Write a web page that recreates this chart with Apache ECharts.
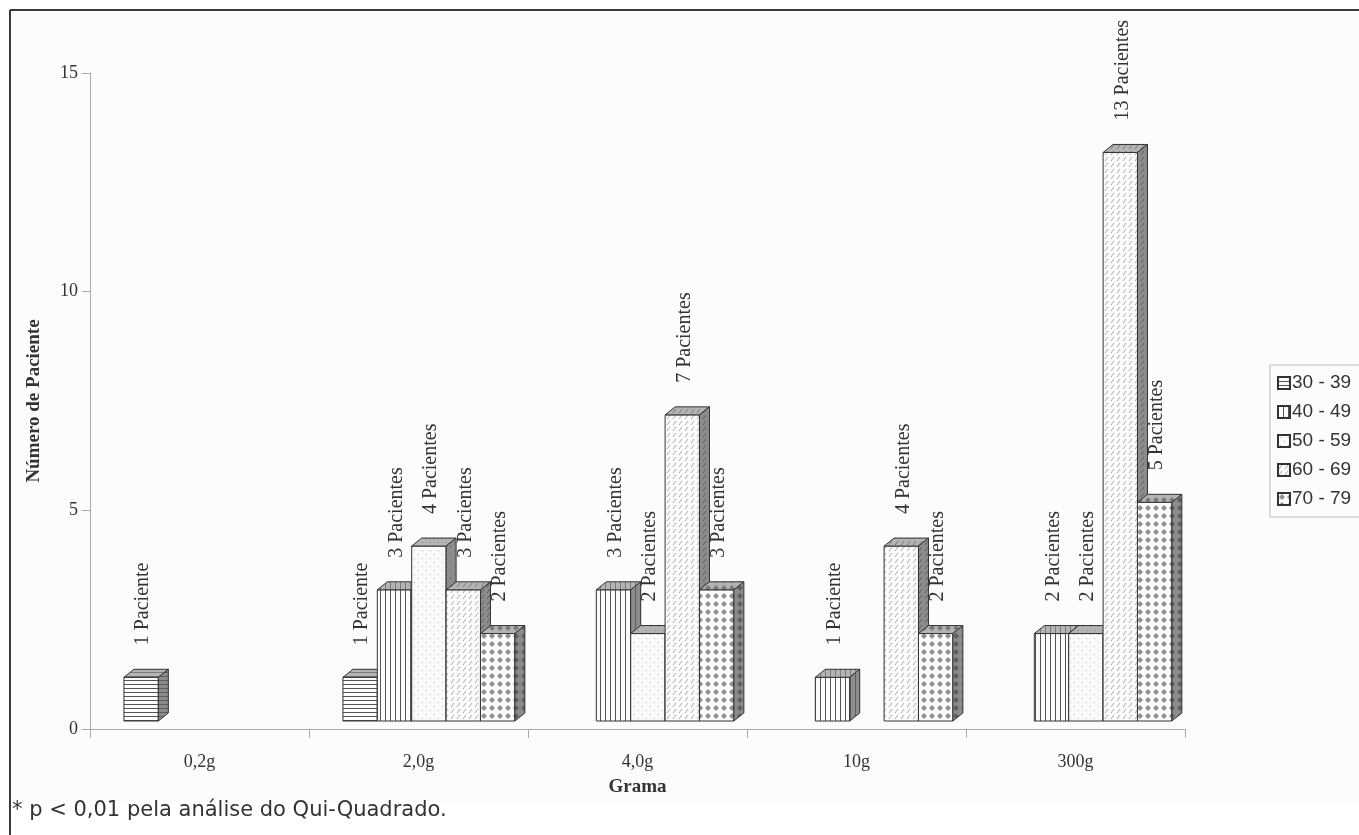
<!DOCTYPE html>
<html>
<head>
<meta charset="utf-8">
<script src="https://cdn.jsdelivr.net/npm/echarts@6/dist/echarts.min.js"></script>
<style>
html,body{margin:0;padding:0;background:#ffffff;}
#chart{width:1359px;height:835px;}
</style>
</head>
<body>
<div id="chart"></div>
<script>
// ---- data ----
const categories = ['0,2g', '2,0g', '4,0g', '10g', '300g'];
const seriesNames = ['30 - 39', '40 - 49', '50 - 59', '60 - 69', '70 - 79'];
const age3039 = [1, 1, null, null, null];
const age4049 = [null, 3, 3, 1, 2];
const age5059 = [null, 4, 2, null, 2];
const age6069 = [null, 3, 7, 4, 13];
const age7079 = [null, 2, 3, 2, 5];
const yTicks = [0, 5, 10, 15];

const seriesValues = [age3039, age4049, age5059, age6069, age7079];

// ---- patterns ----
function tile(w, h, bg, draw) {
  const c = document.createElement('canvas');
  c.width = w; c.height = h;
  const g = c.getContext('2d');
  g.fillStyle = bg; g.fillRect(0, 0, w, h);
  draw(g);
  return c;
}
const patternDraw = [
  function (bg, fg) { return tile(4, 4, bg, g => { g.fillStyle = fg; g.fillRect(0, 0, 4, 1); }); },
  function (bg, fg) { return tile(5, 5, bg, g => { g.fillStyle = fg; g.fillRect(0, 0, 1, 5); }); },
  function (bg, fg) { return tile(8, 8, bg, g => { g.fillStyle = fg; g.fillRect(2, 2, 1, 1); g.fillRect(6, 6, 1, 1); }); },
  function (bg, fg) { return tile(6, 6, bg, g => { g.strokeStyle = fg; g.lineWidth = 1; g.beginPath(); g.moveTo(1, 5); g.lineTo(4, 1); g.stroke(); }); },
  function (bg, fg) {
    return tile(8, 8, bg, g => {
      g.fillStyle = fg;
      g.beginPath(); g.moveTo(4, 1); g.lineTo(7, 4); g.lineTo(4, 7); g.lineTo(1, 4); g.closePath(); g.fill();
    });
  }
];
const frontFg = ['#555', '#555', '#b5b5b5', '#aaa', '#8f8f8f'];
function pat(c) { return { image: c, repeat: 'repeat' }; }
const frontFill = patternDraw.map((f, i) => pat(f('#fbfbfb', frontFg[i])));
const topFill = patternDraw.map((f, i) => pat(f('#b4b4b4', '#7a7a7a')));
const sideFill = patternDraw.map((f, i) => pat(f('#8c8c8c', '#5e5e5e')));

const DX = 10, DY = -8, LIFT = 8;

function makeRender(s) {
  return function (params, api) {
    const cat = api.value(0);
    const v = api.value(1);
    if (v == null || isNaN(v) || v <= 0) return null;
    const band = api.size([1, 0])[0];
    const base = api.coord([cat, 0]);
    const topP = api.coord([cat, v]);
    const w = band * 0.157;
    const x0 = base[0] - band / 2 + band * 0.155 + s * w;
    const yB = base[1] - LIFT;
    const yT = topP[1] - LIFT;
    const stroke = { stroke: '#333', lineWidth: 1 };
    const label = v === 1 ? '1 Paciente' : v + ' Pacientes';
    return {
      type: 'group',
      children: [
        { type: 'rect', shape: { x: x0, y: yT, width: w, height: yB - yT },
          style: Object.assign({ fill: frontFill[s] }, stroke) },
        { type: 'polygon', shape: { points: [[x0, yT], [x0 + w, yT], [x0 + w + DX, yT + DY], [x0 + DX, yT + DY]] },
          style: Object.assign({ fill: topFill[s] }, stroke) },
        { type: 'polygon', shape: { points: [[x0 + w, yT], [x0 + w + DX, yT + DY], [x0 + w + DX, yB + DY], [x0 + w, yB]] },
          style: Object.assign({ fill: sideFill[s] }, stroke) },
        { type: 'text', x: x0 + w / 2 + 2, y: yT - 32, rotation: Math.PI / 2,
          style: { text: label, fill: '#333', font: '20px "Liberation Serif", serif',
                   align: 'left', verticalAlign: 'middle' } }
      ]
    };
  };
}

const series = seriesValues.map((vals, s) => ({
  type: 'custom',
  name: seriesNames[s],
  renderItem: makeRender(s),
  itemStyle: { color: frontFill[s], borderColor: '#333', borderWidth: 1 },
  encode: { x: 0, y: 1 },
  data: vals.map((v, i) => [i, v == null ? NaN : v]),
  z: 2 + s
}));

const chart = echarts.init(document.getElementById('chart'), null, { renderer: 'canvas' });
chart.setOption({
  backgroundColor: '#ffffff',
  animation: false,
  graphic: [
    { type: 'rect', shape: { x: 10, y: 10, width: 1349, height: 792 }, style: { fill: '#fcfcfc' }, z: -10 },
    { type: 'line', shape: { x1: 10, y1: 10, x2: 1359, y2: 10 }, style: { stroke: '#3a3a3a', lineWidth: 2 }, z: 10 },
    { type: 'line', shape: { x1: 10, y1: 10, x2: 10, y2: 835 }, style: { stroke: '#3a3a3a', lineWidth: 2 }, z: 10 },
    { type: 'text', left: 12, top: 800,
      style: { text: '* p < 0,01 pela análise do Qui-Quadrado.', fill: '#333', font: '21px "DejaVu Sans", sans-serif' }, z: 10 }
  ],
  grid: { left: 90, right: 174, top: 73, bottom: 106, containLabel: false },
  legend: {
    orient: 'vertical',
    left: 1270, top: 365,
    data: seriesNames,
    icon: 'rect',
    itemWidth: 12, itemHeight: 12, itemGap: 9,
    padding: [8, 12, 8, 7],
    borderColor: '#bbb', borderWidth: 1,
    backgroundColor: '#fcfcfc',
    textStyle: { color: '#333', fontSize: 19, fontFamily: '"Liberation Sans", Arial, sans-serif', lineHeight: 20, padding: [0, 0, 0, -3] }
  },
  xAxis: {
    type: 'category',
    data: categories,
    boundaryGap: true,
    name: 'Grama',
    nameLocation: 'middle',
    nameGap: 49,
    nameTextStyle: { color: '#333', fontWeight: 'bold', fontSize: 19, fontFamily: '"Liberation Serif", serif' },
    axisLine: { lineStyle: { color: '#aaa', width: 1 } },
    axisTick: { show: true, length: 9, lineStyle: { color: '#aaa' } },
    axisLabel: { color: '#333', fontSize: 18, fontFamily: '"Liberation Serif", serif', margin: 24 },
    splitLine: { show: false }
  },
  yAxis: {
    type: 'value',
    min: 0, max: 15, interval: 5,
    name: 'Número de Paciente',
    nameLocation: 'middle',
    nameGap: 46,
    nameTextStyle: { color: '#333', fontWeight: 'bold', fontSize: 19, fontFamily: '"Liberation Serif", serif' },
    axisLine: { show: true, lineStyle: { color: '#aaa', width: 1 } },
    axisTick: { show: true, length: 8, lineStyle: { color: '#aaa' } },
    axisLabel: { color: '#333', fontSize: 18, fontFamily: '"Liberation Serif", serif', margin: 12,
      formatter: v => (yTicks.indexOf(v) >= 0 ? String(v) : '') },
    splitLine: { show: false }
  },
  series: series
});
</script>
</body>
</html>
